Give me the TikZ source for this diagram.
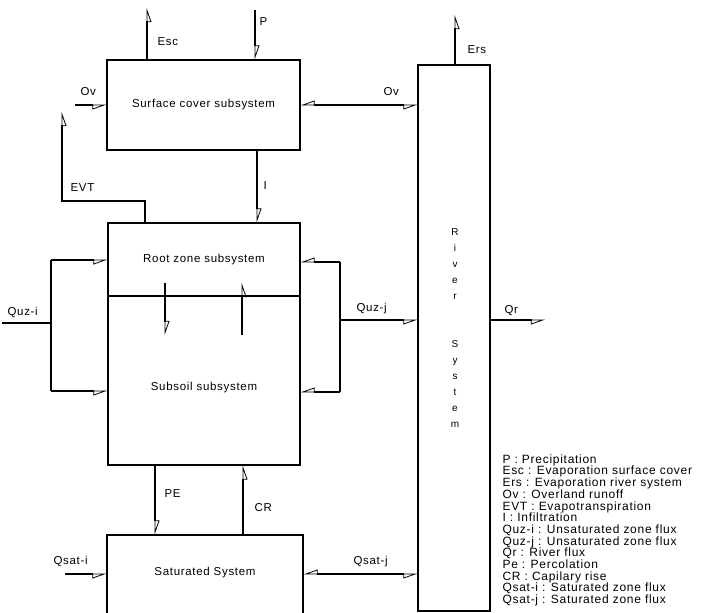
\documentclass[tikz,border=0pt]{standalone}
\usepackage{fontspec}
\setmainfont[LetterSpace=6]{Liberation Sans}
\usetikzlibrary{arrows.meta}
\begin{document}
\begin{tikzpicture}[x=1pt,y=-1pt,line width=1.1pt,
  box/.style={draw,rectangle,inner sep=0pt},
  hr/.style={-{Triangle[open,right,length=13pt,width=9pt,line width=0.8pt]}},
  hl/.style={-{Triangle[open,left,length=13pt,width=9pt,line width=0.8pt]}},
  lbl/.style={font=\fontsize{11.5}{13}\selectfont,inner sep=0pt},
  lw/.style={lbl,anchor=west}]
\useasboundingbox (0,0) rectangle (718,613);
\clip (0,0) rectangle (718,613);
% boxes
\node[box,lbl,minimum width=193pt,minimum height=90pt] (sc) at (203.5,105) {Surface cover subsystem};
\node[box,lbl,minimum width=192pt,minimum height=73pt] (rz) at (204,259.5) {Root zone subsystem};
\node[box,minimum width=192pt,minimum height=169pt] (so) at (204,380.5) {};
\node[lbl] (sot) at (204,388) {Subsoil subsystem};
\node[box,minimum width=196pt,minimum height=100pt] (sat) at (205,585) {};
\node[lbl] (satt) at (205,573) {Saturated System};
\node[box,minimum width=72pt,minimum height=546pt] (rv) at (454,338) {};
\node[font=\fontsize{10}{16}\selectfont,align=center,inner sep=0pt] (rvt) at (455,328) {R\\i\\v\\e\\r\\[32pt]S\\y\\s\\t\\e\\m};
% coordinates
\coordinate (escT) at (147,8);
\coordinate (pT) at (255,10);
\coordinate (ovL) at (75,105);
\coordinate (ovM) at (360,105);
\coordinate (evtA) at (145,201);
\coordinate (evtB) at (62,201);
\coordinate (evtT) at (62,112);
\coordinate (iX) at (257,0);
\coordinate (a1T) at (165,283);
\coordinate (a1B) at (165,335);
\coordinate (a2T) at (242,283);
\coordinate (a2B) at (242,335);
\coordinate (qiT) at (51,260);
\coordinate (qiB) at (51,391);
\coordinate (qiS) at (2,323);
\coordinate (qjT) at (340,262);
\coordinate (qjB) at (340,392);
\coordinate (qjM) at (340,320);
\coordinate (ersT) at (455,15);
\coordinate (peX) at (155,0);
\coordinate (crX) at (243,0);
\coordinate (qsiL) at (65,574);
\coordinate (qsjM) at (360,574);
\coordinate (qrE) at (545,320);
% connectors
\draw[hr] (sc.north -| escT) -- (escT);
\draw[hl] (pT) -- (pT |- sc.north);
\draw[hr] (ovL) -- (ovL -| sc.west);
\draw[hr] (ovM) -- (ovM -| sc.east);
\draw[hr] (ovM) -- (ovM -| rv.west);
\draw[hr] (evtA |- rz.north) -- (evtA) -- (evtB) -- (evtT);
\draw[hl] (sc.south -| iX) -- (rz.north -| iX);
\draw[hl] (a1T) -- (a1B);
\draw[hr] (a2B) -- (a2T);
\draw (qiT) -- (qiB);
\draw[hr] (qiT) -- (qiT -| rz.west);
\draw[hr] (qiB) -- (qiB -| so.west);
\draw (qiS) -- (qiS -| qiT);
\draw (qjT) -- (qjB);
\draw[hr] (qjT) -- (qjT -| rz.east);
\draw[hr] (qjB) -- (qjB -| so.east);
\draw[hr] (qjM) -- (qjM -| rv.west);
\draw[hr] (rv.north -| ersT) -- (ersT);
\draw[hl] (so.south -| peX) -- (sat.north -| peX);
\draw[hr] (sat.north -| crX) -- (so.south -| crX);
\draw[hr] (qsiL) -- (qsiL -| sat.west);
\draw[hr] (qsjM) -- (qsjM -| sat.east);
\draw[hr] (qsjM) -- (qsjM -| rv.west);
\draw[hr] (qrE -| rv.east) -- (qrE);
% labels
\node[lw] (lEsc) at (157,42) {Esc};
\node[lw] (lP) at (259,22) {P};
\node[lw] (lOv1) at (80,92) {Ov};
\node[lw] (lOv2) at (383,92) {Ov};
\node[lw] (lErs) at (467,50) {Ers};
\node[lw] (lEVT) at (70,188) {EVT};
\node[lw] (lI) at (263,186) {I};
\node[lw] (lQi) at (7,312) {Quz-i};
\node[lw] (lQj) at (356,309) {Quz-j};
\node[lw] (lQr) at (504,311) {Qr};
\node[lw] (lPE) at (164,494) {PE};
\node[lw] (lCR) at (254,508) {CR};
\node[lw] (lQsi) at (53,561) {Qsat-i};
\node[lw] (lQsj) at (353,562) {Qsat-j};
% legend
\node[lbl,anchor=north west,align=left,font=\fontsize{12}{11.7}\selectfont] (leg) at (502,454) {P : Precipitation\\
Esc : Evaporation surface cover\\
Ers : Evaporation river system\\
Ov : Overland runoff\\
EVT : Evapotranspiration\\
I : Infiltration\\
Quz-i : Unsaturated zone flux\\
Quz-j : Unsaturated zone flux\\
Qr : River flux\\
Pe : Percolation\\
CR : Capilary rise\\
Qsat-i : Saturated zone flux\\
Qsat-j : Saturated zone flux};
\end{tikzpicture}
\end{document}
